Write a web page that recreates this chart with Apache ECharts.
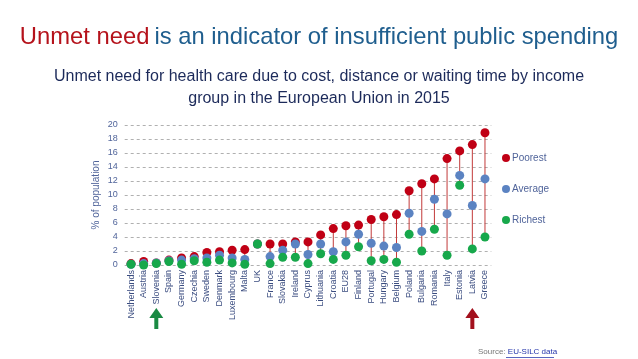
<!DOCTYPE html>
<html><head><meta charset="utf-8">
<script src="https://cdn.jsdelivr.net/npm/echarts@6/dist/echarts.min.js"></script>
<style>html,body{margin:0;padding:0;background:#fff}#c{width:638px;height:359px}</style>
</head><body><div id="c"></div>
<script>
const countries = ['Netherlands','Austria','Slovenia','Spain','Germany','Czechia','Sweden','Denmark','Luxembourg','Malta','UK','France','Slovakia','Ireland','Cyprus','Lithuania','Croatia','EU28','Finland','Portugal','Hungary','Belgium','Poland','Bulgaria','Romania','Italy','Estonia','Latvia','Greece'];
const poorest = [0.2,0.5,0.3,0.7,1.0,1.2,1.8,1.9,2.1,2.2,3.0,3.0,3.0,3.3,3.3,4.3,5.2,5.6,5.7,6.5,6.9,7.2,10.6,11.6,12.3,15.2,16.3,17.2,18.9];
const average = [0.1,0.2,0.3,0.6,0.7,0.9,1.0,1.4,1.0,0.8,3.0,1.2,2.1,3.0,1.5,3.0,1.9,3.3,4.4,3.1,2.7,2.5,7.4,4.8,9.4,7.3,12.8,8.5,12.3];
const richest = [0.1,0.0,0.2,0.5,0.1,0.6,0.4,0.7,0.3,0.1,3.0,0.2,1.1,1.1,0.2,1.6,0.8,1.4,2.6,0.6,0.8,0.4,4.4,2.0,5.1,1.4,11.4,2.3,4.0];
const seriesNames = ['Poorest','Average','Richest'];
const highlightGood = 'Slovenia';
const highlightBad = 'Latvia';

const FONT = 'Liberation Sans, Arial, sans-serif';
const RED = '#c00015', BLUE = '#5b83c2', GREEN = '#17a84b';
const chart = echarts.init(document.getElementById('c'), null, {renderer:'canvas'});
const ranges = countries.map((c,i)=>[i, Math.max(poorest[i],average[i],richest[i]), Math.min(poorest[i],average[i],richest[i])]);

chart.setOption({
  animation:false,
  textStyle:{fontFamily:FONT},
  title:[
    {text:'{r|Unmet need} {b|is an indicator of insufficient public spending}', left:'center', top:20,
     textStyle:{fontWeight:'normal',rich:{r:{color:'#b5121b',fontSize:23.8,fontWeight:'normal',fontFamily:FONT},b:{color:'#1f5e8e',fontSize:23.8,fontWeight:'normal',fontFamily:FONT}}}},
    {text:'Unmet need for health care due to cost, distance or waiting time by income\ngroup in the European Union in 2015', left:'center', top:61,
     textStyle:{color:'#1c2a5a',fontSize:16,fontWeight:'normal',lineHeight:22,fontFamily:FONT}}
  ],
  legend:{orient:'vertical', left:497, top:148, itemGap:21, itemWidth:8, itemHeight:8, icon:'circle',
    data:seriesNames, textStyle:{color:'#50649a',fontSize:10,padding:[0,0,0,-3]}},
  grid:{left:124.7, right:146.7, top:125, bottom:94},
  xAxis:{type:'category', data:countries, axisLine:{show:false}, axisTick:{show:false},
    axisLabel:{rotate:90, interval:0, fontSize:9, color:'#3b4d80', margin:5}},
  yAxis:{type:'value', min:0, max:20, interval:2, name:'% of population', nameLocation:'middle', nameGap:23,
    nameMoveOverlap:false,
    nameTextStyle:{color:'#50649a',fontSize:10},
    axisLine:{show:false}, axisTick:{show:false},
    axisLabel:{fontSize:9, color:'#50649a', margin:7},
    splitLine:{lineStyle:{type:[3,3], color:'#b0b0b0'}}},
  series:[
    {type:'custom', name:'range', data:ranges, z:1, silent:true,
     renderItem:function(params, api){
       const i = api.value(0);
       const a = api.coord([i, api.value(1)]);
       const b = api.coord([i, api.value(2)]);
       return {type:'line', shape:{x1:a[0],y1:a[1],x2:b[0],y2:b[1]}, style:{stroke:'#c23a3a', lineWidth:1}};
     }},
    {type:'scatter', name:'Poorest', data:poorest, symbolSize:9, itemStyle:{color:RED, opacity:1}, z:2},
    {type:'scatter', name:'Average', data:average, symbolSize:9, itemStyle:{color:BLUE, opacity:1}, z:3},
    {type:'scatter', name:'Richest', data:richest, symbolSize:9, itemStyle:{color:GREEN, opacity:1}, z:4}
  ]
});

function arrow(cat, color){
  const x = chart.convertToPixel({xAxisIndex:0}, cat);
  return {type:'polygon', shape:{points:[[x,308],[x+7,318],[x+2,318],[x+2,329],[x-2,329],[x-2,318],[x-7,318]]}, style:{fill:color}};
}
chart.setOption({graphic:[
  arrow(highlightGood, '#1a8a43'),
  arrow(highlightBad, '#a3101d'),
  {type:'text', left:478, top:348, style:{text:'{s|Source: }{l|EU-SILC data}', rich:{s:{fill:'#777777',fontSize:8,fontFamily:FONT},l:{fill:'#2233aa',fontSize:8,fontFamily:FONT}}}},
  {type:'rect', shape:{x:506, y:357, width:48, height:0.8}, style:{fill:'#2233aa'}}
]});
</script></body></html>
